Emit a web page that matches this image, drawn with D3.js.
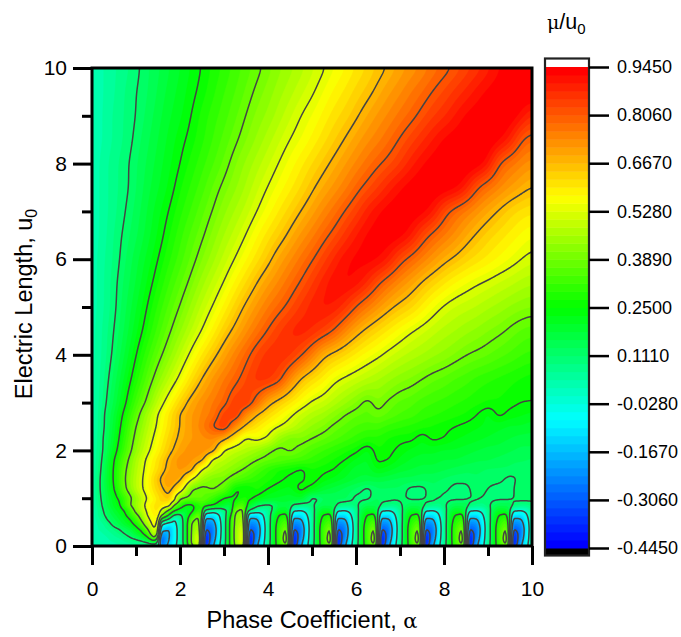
<!DOCTYPE html>
<html><head><meta charset="utf-8">
<script src="https://cdn.jsdelivr.net/npm/d3@7"></script>
<style>html,body{margin:0;background:#fff}svg{display:block}text{font-family:"Liberation Sans",Arial,sans-serif;fill:#000}</style>
</head><body><div id="c"></div>
<script>
// Values of mu/u0 in hundredths.
const lowU=[0,.04,.08,.15,.25,.35,.45,.55,.65,.75,.85,1];
const lowAlpha=[0,.125,.25,.375,.5,.625,.75,.875,1,1.125,1.25,1.42,
1.5,1.57,1.75,1.875,2,2.125,2.25,2.42,
2.5,2.57,2.75,2.875,3,3.125,3.25,3.42,
3.5,3.57,3.75,3.875,4,4.125,4.25,4.42,
4.5,4.57,4.75,4.875,5,5.125,5.25,5.42,
5.5,5.57,5.75,5.875,6,6.125,6.25,6.42,
6.5,6.57,6.75,6.875,7,7.125,7.25,7.42,
7.5,7.57,7.75,7.875,8,8.125,8.25,8.42,
8.5,8.57,8.75,8.875,9,9.125,9.25,9.42,
9.5,9.57,9.75,9.875,10];
const lowRows=[
[2,2,3,3,3,4,4,5,6,7,8,9,5,-25,-13,-6,3,16,34,45,5,-38,-18,-6,6,25,40,45,5,-38,-18,-6,6,20,31,38,5,-38,-18,-6,6,20,31,38,5,-38,-18,-6,6,20,31,38,5,-38,-18,-6,6,20,31,38,5,-38,-18,-6,6,20,31,38,5,-38,-18,-6,6,20,31,38,5,-38,-18,-6,6],
[2,3,3,3,4,4,5,6,7,8,9,10,8,-30,-14,-6,3,17,38,52,8,-43,-19,-6,6,25,41,54,8,-43,-19,-6,6,20,31,41,8,-43,-19,-6,6,20,31,41,8,-43,-19,-6,6,20,31,41,8,-43,-19,-6,6,20,31,41,8,-43,-19,-6,6,20,31,41,8,-43,-19,-6,6,20,31,41,8,-43,-19,-6,6],
[2,3,3,4,4,5,6,7,8,9,11,17,10,-32,-15,-7,3,18,39,55,10,-44,-20,-7,6,25,41,56,10,-44,-20,-7,6,20,31,43,10,-44,-20,-7,6,20,31,43,10,-44,-20,-7,6,20,31,43,10,-44,-20,-7,6,20,31,43,10,-44,-20,-7,6,20,31,43,10,-44,-20,-7,6,20,31,43,10,-44,-20,-7,6],
[2,3,3,4,5,6,8,10,12,15,20,36,20,-31,-17,-8,3,18,39,55,12,-43,-23,-8,5,25,42,56,11,-43,-23,-8,5,20,32,45,10,-43,-23,-8,5,20,32,45,10,-43,-23,-8,5,20,32,45,10,-43,-23,-8,5,20,32,45,10,-43,-23,-8,5,20,32,45,10,-43,-23,-8,5,20,32,45,10,-43,-23,-8,5],
[2,3,4,5,7,9,11,14,18,22,30,50,35,-22,-18,-8,3,18,39,52,14,-38,-26,-9,5,25,42,55,12,-38,-26,-9,5,20,32,43,10,-38,-26,-9,5,20,32,43,10,-38,-26,-9,5,20,32,43,10,-38,-26,-9,5,20,32,43,10,-38,-26,-9,5,20,32,43,10,-38,-26,-9,5,20,32,43,10,-38,-26,-9,5],
[2,4,5,7,9,11,14,17,22,27,37,54,42,-13,-17,-8,3,18,39,48,16,-32,-26,-10,5,25,42,53,13,-32,-26,-10,5,20,32,41,10,-32,-26,-10,5,20,32,41,10,-32,-26,-10,5,20,32,41,10,-32,-26,-10,5,20,32,41,10,-32,-26,-10,5,20,32,41,10,-32,-26,-10,5,20,32,41,10,-32,-26,-10,5],
[2,4,6,9,13,16,19,22,27,34,45,57,48,-2,-10,-6,3,18,39,45,18,-26,-23,-9,5,25,41,50,14,-26,-23,-9,5,20,30,37,10,-26,-23,-9,5,20,30,37,10,-26,-23,-9,5,20,30,37,10,-26,-23,-9,5,20,30,37,10,-26,-23,-9,5,20,30,37,10,-26,-23,-9,5,20,30,37,10,-26,-23,-9,5],
[2,5,8,12,15,18,21,25,32,40,50,58,53,20,8,-4,5,17,36,42,22,-20,-18,-7,5,24,41,46,16,-20,-18,-7,5,19,28,33,10,-20,-18,-7,5,19,28,33,10,-20,-18,-7,5,19,28,33,10,-20,-18,-7,5,19,28,33,10,-20,-18,-7,5,19,28,33,10,-20,-18,-7,5,19,28,33,10,-20,-18,-7,5],
[2,6,10,14,17,20,24,30,37,43,53,58,58,42,25,10,9,17,27,38,27,-8,-10,-4,6,20,40,44,18,-10,-11,-4,6,17,25,27,10,-10,-11,-4,6,18,25,27,10,-10,-11,-4,6,18,25,27,10,-10,-11,-4,6,18,25,27,10,-10,-11,-4,6,18,25,27,10,-10,-11,-4,6,18,25,27,10,-10,-11,-4,6],
[2,6,11,15,19,22,26,33,42,48,54,60,60,52,38,27,22,19,22,30,30,10,5,4,9,13,37,41,24,12,5,3,6,13,20,20,13,-1,-2,0,7,16,20,19,13,-1,-2,0,7,16,20,19,13,-1,-2,0,7,16,20,19,13,-1,-2,0,7,16,20,19,13,-1,-2,0,7,16,20,19,13,-1,-2,0,7],
[3,7,12,17,21,24,32,39,44,49,56,60,62,60,56,37,30,24,23,28,31,28,25,22,19,16,30,35,29,20,13,11,10,11,16,17,16,10,8,8,10,13,15,15,16,10,8,8,10,13,15,15,16,10,8,8,10,13,15,15,16,10,8,8,10,13,15,15,16,10,8,8,10,13,15,15,16,10,8,8,10],
[3,8,13,18,22,26,32,38,43,47,53,57,61,64,66,60,40,38,37,37,37,37,32,28,25,23,24,28,28,27,24,22,21,21,20,19,19,21,20,17,10,10,13,14,14,14,14,13,10,10,10,13,13,13,13,12,12,12,10,10,10,13,13,10,10,10,10,10,10,13,12,10,10,10,10,10,10,12,13,13,12]
];
const highU=[1,1.2,1.4,1.6,1.8,2,2.25,2.5,2.75,3,3.5,4,4.5,5,5.5,6,6.5,7,7.5,8,8.5,9,9.5,10];
const highAlpha=d3.range(41).map(i=>i/4);
const highRows=[
lowRows[11].filter((v,i)=>i%2===0),
[3,14,25,38,48,56,64,70,60,39,37,40,37,25,24,28,25,23,22,27,24,19,17,15,13,10,13,13,13,10,10,13,12,10,10,13,11,10,10,13,12],
[3,14,26,39,48,56,66,72,69,54,44,40,40,36,33,30,28,26,24,24,27,24,22,20,18,17,17,16,15,15,14,14,13,12,12,13,12,12,10,12,12],
[3,13,26,38,47,55,62,69,72,70,52,47,44,41,38,34,30,27,26,24,27,26,25,22,19,19,23,21,19,18,17,17,16,15,14,14,13,13,13,11,12],
[3,12,25,36,46,54,61,68,73,72,69,50,48,45,42,39,37,36,34,33,31,29,27,25,22,20,26,25,22,20,19,19,18,18,17,16,16,15,14,14,13],
[3,11,22,33,43,51,58,65,70,73,73,70,52,49,47,44,40,37,40,37,34,32,30,28,26,22,27,26,24,22,21,21,20,20,19,18,17,17,16,15,15],
[2,11,20,31,41,49,56,63,68,71,73,74,69,60,52,55,52,44,40,41,39,37,35,33,31,29,29,27,26,26,23,26,25,23,22,21,20,19,18,17,17],
[2,10,19,29,39,47,54,61,67,71,75,81,86,74,65,60,56,53,50,46,43,41,38,36,34,33,33,31,30,29,28,27,26,25,24,23,22,21,20,20,19],
[2,10,18,27,36,45,53,60,67,71,74,77,84,86,74,67,62,58,54,50,47,45,42,39,37,36,38,36,34,33,31,30,29,28,27,25,22,26,24,23,22],
[2,9,16,24,33,40,49,56,63,69,73,76,79,85,86,78,69,64,60,56,52,50,47,44,41,37,41,38,36,35,33,32,31,30,29,28,27,27,26,25,25],
[2,8,14,21,28,35,42,48,54,61,67,72,76,79,83,87,87,84,74,66,62,59,54,52,50,48,46,44,42,41,39,37,36,34,33,31,30,29,28,27,26],
[2,7,12,18,25,31,37,42,48,54,60,65,70,75,79,84,87,88,87,82,76,67,65,62,59,56,54,51,49,47,46,44,43,41,39,38,37,35,34,32,31],
[2,7,11,16,22,27,33,38,43,48,53,58,64,68,73,77,81,85,88,90,88,85,81,74,69,65,62,59,56,53,51,49,47,46,44,43,41,40,38,36,35],
[2,6,10,15,20,25,30,35,39,44,49,53,58,63,68,72,76,79,82,86,89,91,90,87,80,76,72,68,65,63,59,55,52,50,49,48,46,45,43,42,41],
[2,6,10,14,18,23,27,32,36,40,45,49,53,58,62,67,71,74,78,81,85,89,92,93,92,88,81,77,73,70,66,63,60,57,55,53,52,50,49,47,46],
[2,6,9,13,17,21,25,29,33,37,41,45,49,53,57,61,65,70,73,77,80,84,88,92,93,94,93,90,82,79,75,72,68,66,63,61,59,57,55,53,51],
[2,5,9,12,15,19,23,27,31,35,38,42,46,49,53,57,61,64,68,72,75,79,82,86,90,93,94,95,94,91,83,79,76,73,69,66,63,61,59,57,55],
[2,5,8,11,14,18,22,25,29,32,36,39,43,46,49,53,56,60,63,67,70,74,77,81,84,89,92,94,95,95,94,91,82,78,75,72,69,66,63,61,60],
[2,5,8,10,13,17,20,23,27,30,33,37,40,43,46,50,53,56,59,62,66,69,72,75,79,82,85,89,92,94,95,96,95,94,90,80,77,74,71,69,66],
[2,5,8,10,13,16,19,22,25,28,31,34,37,41,44,47,50,53,56,59,62,65,68,71,74,77,80,82,85,89,92,94,95,96,96,95,92,79,77,74,72],
[2,4,7,9,12,15,18,21,24,26,29,32,35,38,41,44,47,50,53,55,58,61,64,67,70,73,75,78,81,84,87,90,93,94,95,96,96,93,90,80,78],
[2,4,7,9,11,14,17,20,22,25,28,31,33,36,39,42,44,47,50,53,55,58,61,63,66,69,72,74,77,79,82,85,87,90,93,94,95,96,95,92,86],
[2,4,6,9,11,13,16,19,21,24,26,29,32,34,37,40,42,45,47,50,52,55,58,60,63,65,68,71,73,76,78,81,83,86,88,91,93,94,95,96,96],
[2,4,6,8,10,13,15,18,20,23,25,28,30,33,35,38,40,43,45,47,50,52,55,57,60,62,65,67,70,72,74,77,79,81,84,86,89,92,94,95,96]
];
const xMajor=[0,2,4,6,8,10], xMinor=[1,3,5,7,9];
const barTicks=[-0.445,-0.306,-0.167,-0.028,0.111,0.25,0.389,0.528,0.667,0.806,0.945];
const lineLevels=[-0.306,-0.167,-0.028,0.111,0.25,0.389,0.528,0.667,0.806];
const colorKnots=[-0.445,-0.077,0.25,0.574,0.945];
const colorStops=["#0000ff","#00ffff","#00ff00","#ffff00","#ff0000"];
const nBands=60;

const W=681,H=637,L=92,R=532,T=68,B=546;
const svg=d3.select("#c").append("svg").attr("width",W).attr("height",H);
const x=d3.scaleLinear([0,10],[L,R]), y=d3.scaleLinear([0,10],[B,T]);
const color=d3.scaleLinear(colorKnots,colorStops).interpolate(d3.interpolateRgb);
const lo=barTicks[0], hi=barTicks[barTicks.length-1];
const bandEdges=d3.range(nBands+1).map(k=>lo+(hi-lo)*k/nBands);
const bandColor=k=>color(lo+(hi-lo)*k/(nBands-1));

svg.append("defs").append("clipPath").attr("id","pc").append("rect").attr("x",L).attr("y",T).attr("width",R-L).attr("height",B-T);
const plot=svg.append("g").attr("clip-path","url(#pc)");

// surface: sample the read values on an even raster for the contour generator
const nx=441, ny=479;
function lookup(rows,xs,ys,a,u){
  const i=Math.min(xs.length-2,Math.max(0,d3.bisectRight(xs,a)-1));
  const j=Math.min(ys.length-2,Math.max(0,d3.bisectRight(ys,u)-1));
  const s=(a-xs[i])/(xs[i+1]-xs[i]), t=(u-ys[j])/(ys[j+1]-ys[j]);
  return ((rows[j][i]*(1-s)+rows[j][i+1]*s)*(1-t)+(rows[j+1][i]*(1-s)+rows[j+1][i+1]*s)*t)/100;
}
const base=new Float64Array(nx*ny);
for(let j=0;j<ny;j++)for(let i=0;i<nx;i++){
  const a=i*10/(nx-1),u=j*10/(ny-1);
  base[j*nx+i]=u<1?lookup(lowRows,lowAlpha,lowU,a,u):lookup(highRows,highAlpha,highU,a,u);
}
const fine=Float64Array.from(base), light=Float64Array.from(base), heavy=Float64Array.from(base);
d3.blur2({data:fine,width:nx},.6);
d3.blur2({data:light,width:nx},2);
d3.blur2({data:heavy,width:nx},5.5);
const surface=new Float64Array(nx*ny);
for(let j=0;j<ny;j++){
  const u=j*10/(ny-1), w1=Math.max(0,Math.min(1,(u-.85)/.4)), w2=Math.max(0,Math.min(1,(u-2.8)/1));
  for(let i=0;i<nx;i++){ const k=j*nx+i; surface[k]=(fine[k]*(1-w1)+light[k]*w1)*(1-w2)+heavy[k]*w2; }
}
const gen=d3.contours().size([nx,ny]);
const cx=c=>Math.max(0,Math.min(nx-1,c-.5)), cy=c=>Math.max(0,Math.min(ny-1,c-.5));
const px=p=>[x(cx(p[0])*10/(nx-1)),y(cy(p[1])*10/(ny-1))];
plot.append("rect").attr("x",L).attr("y",T).attr("width",R-L).attr("height",B-T).attr("fill",bandColor(0));
const poly=d3.line();
bandEdges.slice(0,nBands).forEach((t,k)=>{
  const c=gen.contour(surface,t); let d="";
  c.coordinates.forEach(p=>p.forEach(r=>{d+=poly(r.map(px))+"Z";}));
  if(d) plot.append("path").attr("d",d).attr("fill",bandColor(k)).attr("stroke",bandColor(k)).attr("stroke-width",.5).attr("fill-rule","evenodd");
});
const onB=(a,b)=>(cx(a[0])===cx(b[0])&&(cx(a[0])===0||cx(a[0])===nx-1))||(cy(a[1])===cy(b[1])&&(cy(a[1])===0||cy(a[1])===ny-1));
lineLevels.forEach(t=>{
  const c=gen.contour(surface,t); let d="";
  c.coordinates.forEach(p=>p.forEach(r=>{
    const n=r.length-1; let start=-1;
    for(let i=0;i<n;i++) if(onB(r[i],r[i+1])){start=i;break;}
    if(start<0){ d+=poly(r.map(px)); return; }
    let run=[];
    for(let s=1;s<=n;s++){
      const i=(start+s)%n, j=(i+1)%n;
      if(!run.length) run.push(r[i]);
      if(onB(r[i],r[j])){ if(run.length>1) d+=poly(run.map(px)); run=[]; }
      else run.push(r[j]);
    }
    if(run.length>1) d+=poly(run.map(px));
  }));
  if(d) plot.append("path").attr("d",d).attr("fill","none").attr("stroke","#444").attr("stroke-width",1.5).attr("stroke-linejoin","round");
});

// frame and axes
svg.append("rect").attr("x",L).attr("y",T).attr("width",R-L).attr("height",B-T).attr("fill","none").attr("stroke","#000").attr("stroke-width",3);
function styleAxis(g,size){g.select(".domain").remove();g.selectAll(".tick line").attr("stroke","#000").attr("stroke-width",3);g.selectAll("text").attr("font-size",size);}
const bMaj=svg.append("g").attr("transform",`translate(0,${B})`).call(d3.axisBottom(x).tickValues(xMajor).tickSize(19).tickPadding(16).tickFormat(d3.format("d")));
styleAxis(bMaj,21);
svg.append("g").attr("transform",`translate(0,${B})`).call(d3.axisBottom(x).tickValues(xMinor).tickSize(10).tickFormat("")).call(g=>styleAxis(g,21));
const lMaj=svg.append("g").attr("transform",`translate(${L},0)`).call(d3.axisLeft(y).tickValues(xMajor).tickSize(19).tickPadding(6).tickFormat(d3.format("d")));
styleAxis(lMaj,21);
svg.append("g").attr("transform",`translate(${L},0)`).call(d3.axisLeft(y).tickValues(xMinor).tickSize(10).tickFormat("")).call(g=>styleAxis(g,21));

const xl=svg.append("text").attr("x",312).attr("y",628).attr("text-anchor","middle").attr("font-size",23.5);
xl.append("tspan").text("Phase Coefficient, ");
xl.append("tspan").attr("style","font-family:'DejaVu Serif','Liberation Serif',serif").attr("font-size",21).text("α");
const yl=svg.append("text").attr("transform","translate(32,304) rotate(-90)").attr("text-anchor","middle").attr("font-size",23.5);
yl.append("tspan").text("Electric Length, u");
yl.append("tspan").attr("font-size",16).attr("dy",5).text("0");

// colour bar
const barX=545, barW=44;
const by=d3.scaleLinear([lo,hi],[548,67]);
svg.append("rect").attr("x",barX).attr("y",58).attr("width",barW).attr("height",9).attr("fill","#fff");
svg.append("rect").attr("x",barX).attr("y",548).attr("width",barW).attr("height",8).attr("fill","#000");
svg.append("g").selectAll("rect").data(d3.range(nBands)).join("rect")
  .attr("x",barX).attr("width",barW)
  .attr("y",k=>by(bandEdges[k+1])).attr("height",k=>by(bandEdges[k])-by(bandEdges[k+1])+.5)
  .attr("fill",k=>bandColor(k));
svg.append("rect").attr("x",barX).attr("y",58.5).attr("width",barW).attr("height",497).attr("fill","none").attr("stroke","#222").attr("stroke-width",2.2);
const ax=svg.append("g").attr("transform",`translate(${barX+barW},0)`).call(d3.axisRight(by).tickValues(barTicks).tickSize(20).tickPadding(8).tickFormat(v=>d3.format(".4f")(v).replace("−","-")));
styleAxis(ax,18);
ax.selectAll(".tick line").attr("stroke-width",2.5);
const title=svg.append("text").attr("x",547).attr("y",29).attr("font-size",21.5);
title.append("tspan").attr("style","font-family:'DejaVu Serif','Liberation Serif',serif").attr("font-size",19).text("μ");
title.append("tspan").text("/u");
title.append("tspan").attr("font-size",15).attr("dy",5).text("0");
</script></body></html>
